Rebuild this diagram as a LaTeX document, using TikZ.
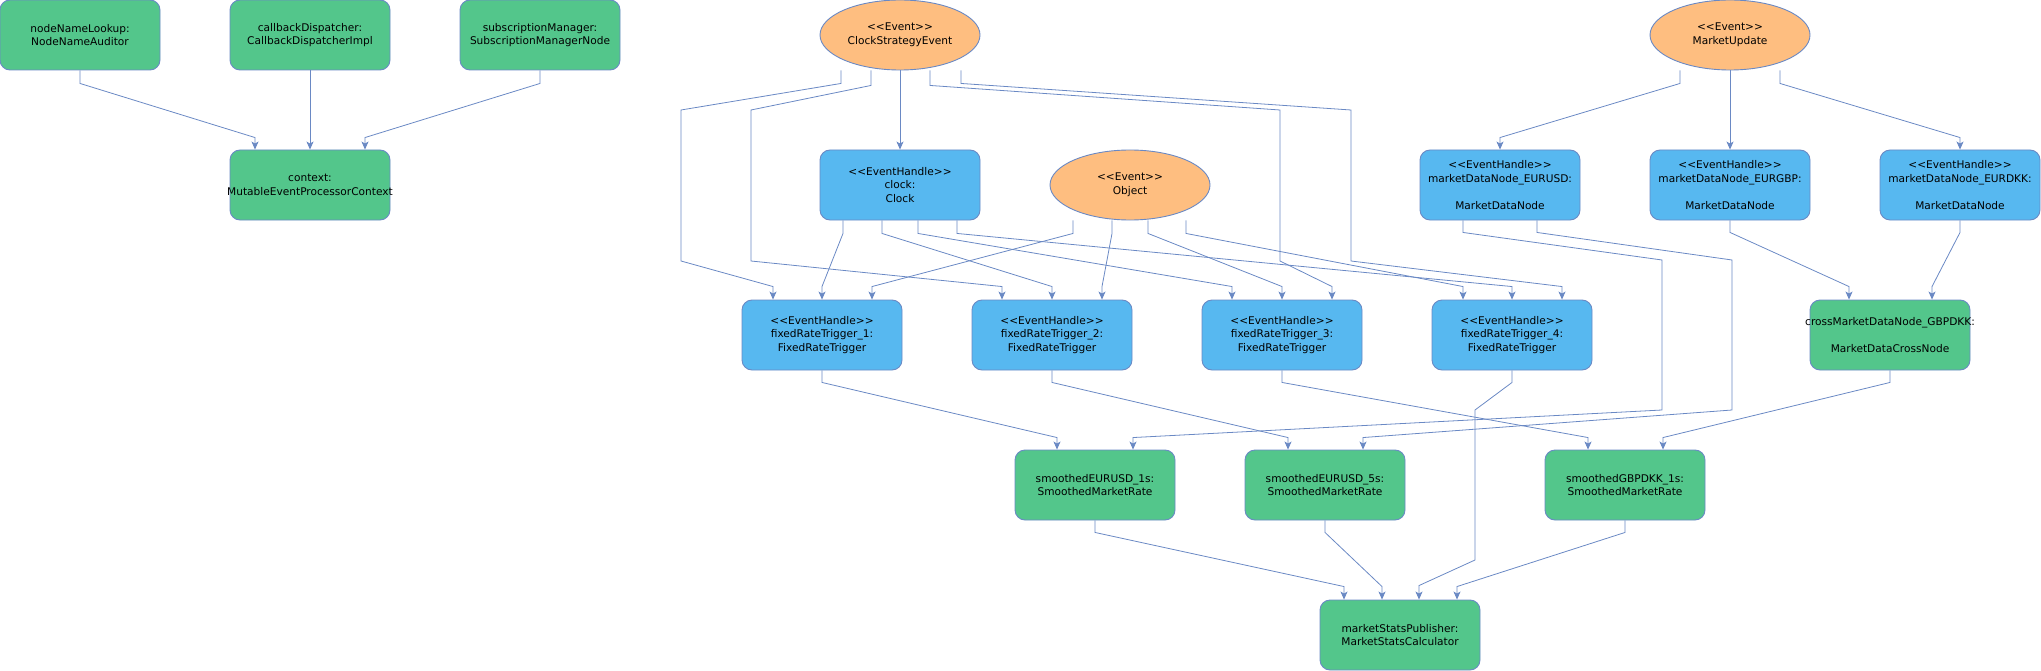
\documentclass[tikz,border=0pt]{standalone}
\usepackage{fontspec}
\setmainfont{DejaVu Sans}
\usepackage{tikz}
\usetikzlibrary{shapes.geometric,arrows.meta}
\definecolor{nodegreen}{RGB}{83,198,139}
\definecolor{handleblue}{RGB}{87,184,240}
\definecolor{eventorange}{RGB}{254,190,128}
\definecolor{edgeblue}{RGB}{106,137,196}
\newcommand{\stereo}[1]{<\kern0pt<#1>\kern0pt>}

\begin{document}
\begin{tikzpicture}[x=1pt,y=1pt,font=\fontsize{10.6}{13.7}\selectfont,
    roundbox/.style={draw=edgeblue,line width=0.9pt,rounded corners=10pt,minimum width=160pt,minimum height=70pt,inner sep=0pt,align=center},
    plainnode/.style={roundbox,fill=nodegreen},
    handlenode/.style={roundbox,fill=handleblue},
    eventnode/.style={ellipse,draw=edgeblue,line width=0.9pt,fill=eventorange,minimum width=160pt,minimum height=70pt,inner sep=0pt,align=center},
    flow/.style={draw=edgeblue,line width=0.8pt,-{Stealth[length=8pt,width=7pt,inset=2pt]}}]
      \useasboundingbox (0,0) rectangle (2041,-671);
      \node[plainnode] (nnl) at (80,-35) {nodeNameLookup:\\NodeNameAuditor};
      \node[plainnode] (cbd) at (310,-35) {callbackDispatcher:\\CallbackDispatcherImpl};
      \node[plainnode] (sub) at (540,-35) {subscriptionManager:\\SubscriptionManagerNode};
      \node[plainnode] (ctx) at (310,-185) {context:\\\makebox[150pt]{MutableEventProcessorContext}};
      \node[eventnode] (cse) at (900,-35) {\stereo{Event}\\ClockStrategyEvent};
      \node[handlenode] (clock) at (900,-185) {\stereo{EventHandle}\\clock:\\Clock};
      \node[eventnode] (obj) at (1130,-185) {\stereo{Event}\\Object};
      \node[eventnode] (mu) at (1730,-35) {\stereo{Event}\\MarketUpdate};
      \node[handlenode] (mdusd) at (1500,-185) {\stereo{EventHandle}\\marketDataNode\_EURUSD:\\[13.7pt]MarketDataNode};
      \node[handlenode] (mdgbp) at (1730,-185) {\stereo{EventHandle}\\marketDataNode\_EURGBP:\\[13.7pt]MarketDataNode};
      \node[handlenode] (mddkk) at (1960,-185) {\stereo{EventHandle}\\marketDataNode\_EURDKK:\\[13.7pt]MarketDataNode};
      \node[handlenode] (frt1) at (822,-335) {\stereo{EventHandle}\\fixedRateTrigger\_1:\\FixedRateTrigger};
      \node[handlenode] (frt2) at (1052,-335) {\stereo{EventHandle}\\fixedRateTrigger\_2:\\FixedRateTrigger};
      \node[handlenode] (frt3) at (1282,-335) {\stereo{EventHandle}\\fixedRateTrigger\_3:\\FixedRateTrigger};
      \node[handlenode] (frt4) at (1512,-335) {\stereo{EventHandle}\\fixedRateTrigger\_4:\\FixedRateTrigger};
      \node[plainnode] (cross) at (1890,-335) {\makebox[150pt]{crossMarketDataNode\_GBPDKK:}\\[13.7pt]MarketDataCrossNode};
      \node[plainnode] (sm1) at (1095,-485) {smoothedEURUSD\_1s:\\SmoothedMarketRate};
      \node[plainnode] (sm5) at (1325,-485) {smoothedEURUSD\_5s:\\SmoothedMarketRate};
      \node[plainnode] (smg) at (1625,-485) {smoothedGBPDKK\_1s:\\SmoothedMarketRate};
      \node[plainnode] (msp) at (1400,-635) {marketStatsPublisher:\\MarketStatsCalculator};

      \draw[flow] (nnl.south) -- ++(0,-13) -- ([xshift=-55pt,yshift=12pt]ctx.north) -- ([xshift=-55pt]ctx.north);
      \draw[flow] (cbd.south) -- (ctx.north);
      \draw[flow] (sub.south) -- ++(0,-13) -- ([xshift=55pt,yshift=12pt]ctx.north) -- ([xshift=55pt]ctx.north);

      \draw[flow] ([xshift=-59pt]cse.south) -- ++(0,-13) -- (681,-110) -- (681,-261) -- ([xshift=-49pt,yshift=13pt]frt1.north) -- ([xshift=-49pt]frt1.north);
      \draw[flow] ([xshift=-29pt]cse.south) -- ++(0,-15) -- (751,-110) -- (751,-261) -- ([xshift=-50pt,yshift=13pt]frt2.north) -- ([xshift=-50pt]frt2.north);
      \draw[flow] (cse.south) -- (clock.north);
      \draw[flow] ([xshift=30pt]cse.south) -- ++(0,-15) -- (1280,-110) -- (1280,-261) -- ([xshift=50pt,yshift=13pt]frt3.north) -- ([xshift=50pt]frt3.north);
      \draw[flow] ([xshift=61pt]cse.south) -- ++(0,-13) -- (1351,-110) -- (1351,-261) -- ([xshift=50pt,yshift=13pt]frt4.north) -- ([xshift=50pt]frt4.north);

      \draw[flow] ([xshift=-57pt]clock.south) -- ++(0,-13) -- ([yshift=13pt]frt1.north) -- (frt1.north);
      \draw[flow] ([xshift=-18pt]clock.south) -- ++(0,-13) -- ([yshift=13pt]frt2.north) -- (frt2.north);
      \draw[flow] ([xshift=18pt]clock.south) -- ++(0,-13) -- ([xshift=-50pt,yshift=13pt]frt3.north) -- ([xshift=-50pt]frt3.north);
      \draw[flow] ([xshift=57pt]clock.south) -- ++(0,-13) -- ([yshift=13pt]frt4.north) -- (frt4.north);

      \draw[flow] ([xshift=-57pt]obj.south) -- ++(0,-13) -- ([xshift=50pt,yshift=13pt]frt1.north) -- ([xshift=50pt]frt1.north);
      \draw[flow] ([xshift=-18pt]obj.south) -- ++(0,-13) -- ([xshift=50pt,yshift=13pt]frt2.north) -- ([xshift=50pt]frt2.north);
      \draw[flow] ([xshift=18pt]obj.south) -- ++(0,-13) -- ([yshift=13pt]frt3.north) -- (frt3.north);
      \draw[flow] ([xshift=56pt]obj.south) -- ++(0,-13) -- ([xshift=-49pt,yshift=13pt]frt4.north) -- ([xshift=-49pt]frt4.north);

      \draw[flow] ([xshift=-50pt]mu.south) -- ++(0,-13) -- ([yshift=12pt]mdusd.north) -- (mdusd.north);
      \draw[flow] (mu.south) -- (mdgbp.north);
      \draw[flow] ([xshift=50pt]mu.south) -- ++(0,-13) -- ([yshift=12pt]mddkk.north) -- (mddkk.north);

      \draw[flow] ([xshift=-37pt]mdusd.south) -- ++(0,-12) -- (1662,-260) -- (1662,-410) -- ([xshift=38pt,yshift=12pt]sm1.north) -- ([xshift=38pt]sm1.north);
      \draw[flow] ([xshift=37pt]mdusd.south) -- ++(0,-12) -- (1732,-260) -- (1732,-410) -- ([xshift=38pt,yshift=12pt]sm5.north) -- ([xshift=38pt]sm5.north);
      \draw[flow] (mdgbp.south) -- ++(0,-12) -- ([xshift=-41pt,yshift=13pt]cross.north) -- ([xshift=-41pt]cross.north);
      \draw[flow] (mddkk.south) -- ++(0,-12) -- ([xshift=42pt,yshift=13pt]cross.north) -- ([xshift=42pt]cross.north);

      \draw[flow] (frt1.south) -- ++(0,-12) -- ([xshift=-38pt,yshift=12pt]sm1.north) -- ([xshift=-38pt]sm1.north);
      \draw[flow] (frt2.south) -- ++(0,-12) -- ([xshift=-37pt,yshift=12pt]sm5.north) -- ([xshift=-37pt]sm5.north);
      \draw[flow] (frt3.south) -- ++(0,-12) -- ([xshift=-37pt,yshift=12pt]smg.north) -- ([xshift=-37pt]smg.north);
      \draw[flow] (frt4.south) -- ++(0,-12) -- (1475,-410) -- (1475,-560) -- ([xshift=19pt,yshift=14pt]msp.north) -- ([xshift=19pt]msp.north);
      \draw[flow] (cross.south) -- ++(0,-12) -- ([xshift=38pt,yshift=12pt]smg.north) -- ([xshift=38pt]smg.north);

      \draw[flow] (sm1.south) -- ++(0,-12) -- ([xshift=-56pt,yshift=13pt]msp.north) -- ([xshift=-56pt]msp.north);
      \draw[flow] (sm5.south) -- ++(0,-12) -- ([xshift=-18pt,yshift=13pt]msp.north) -- ([xshift=-18pt]msp.north);
      \draw[flow] (smg.south) -- ++(0,-12) -- ([xshift=57pt,yshift=13pt]msp.north) -- ([xshift=57pt]msp.north);
      % \draw[very thin,color=gray] (0,0) grid[step=100] (2041,-671);
    \end{tikzpicture}
\end{document}
